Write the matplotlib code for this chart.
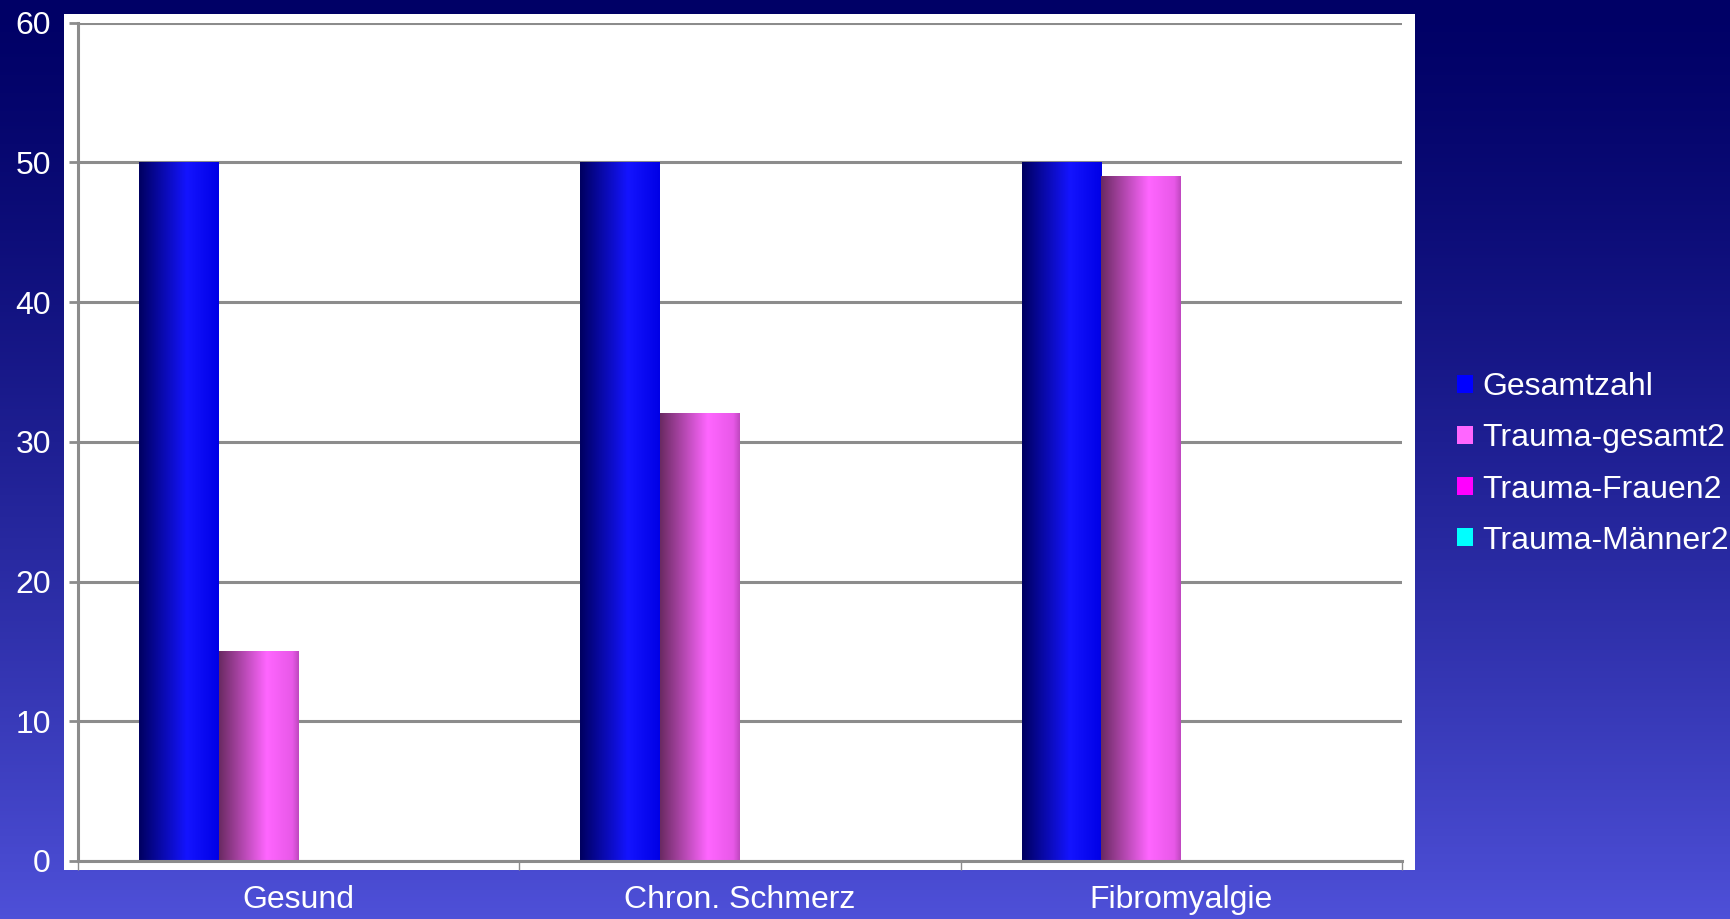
import numpy as np
import matplotlib
matplotlib.use("Agg")
import matplotlib.pyplot as plt
from matplotlib.colors import LinearSegmentedColormap
from matplotlib.patches import Patch, Rectangle

plt.rcParams['font.family'] = ['Liberation Sans', 'DejaVu Sans']

# data
categories = ["Gesund", "Chron. Schmerz", "Fibromyalgie"]
series_names = ["Gesamtzahl", "Trauma-gesamt2", "Trauma-Frauen2", "Trauma-Männer2"]
gesamtzahl = [50, 50, 50]
trauma_gesamt = [15, 32, 49]
trauma_frauen = [0, 0, 0]
trauma_maenner = [0, 0, 0]
y_ticks = [0, 10, 20, 30, 40, 50, 60]

series = [gesamtzahl, trauma_gesamt, trauma_frauen, trauma_maenner]
legend_colors = ["#0000ff", "#ff66ff", "#ff00ff", "#00ffff"]
# cylinder-like shading for each series (left -> highlight -> right)
shades = [
    [(0, "#000060"), (0.6, "#1414ff"), (1, "#0000e6")],
    [(0, "#6a2a62"), (0.6, "#ff66ff"), (0.92, "#e858e8"), (1, "#c048c0")],
    [(0, "#700070"), (0.6, "#ff20ff"), (1, "#d000d0")],
    [(0, "#007070"), (0.6, "#20ffff"), (1, "#00d0d0")],
]

fig = plt.figure(figsize=(17.31, 9.19), dpi=100)

# background gradient
bg = fig.add_axes([0, 0, 1, 1], zorder=-10)
t = np.linspace(0, 1, 256) ** 1.3
top = np.array([0, 0, 102]) / 255
bot = np.array([78, 80, 216]) / 255
grad = top[None, :] + t[:, None] * (bot - top)[None, :]
bg.imshow(grad[:, None, :], aspect='auto', extent=(0, 1, 0, 1))
bg.axis('off')

# white plot area
fig.patches.append(Rectangle((64 / 1731, 1 - 870 / 919), 1351 / 1731, 856 / 919,
                             transform=fig.transFigure, facecolor='white',
                             edgecolor='none', zorder=-5))

ax = fig.add_axes([78 / 1731, 1 - 861 / 919, 1324 / 1731, 838.3 / 919])
ax.patch.set_alpha(0)

x = np.arange(len(categories))
w = 0.181
for i, vals in enumerate(series):
    bars = ax.bar(x + (i - 1.5) * w, vals, w, color='none', zorder=2)
    cmap = LinearSegmentedColormap.from_list("s%d" % i, shades[i])
    for b in bars:
        h = b.get_height()
        if h <= 0:
            continue
        x0 = b.get_x()
        ax.imshow(np.linspace(0, 1, 200)[None, :], cmap=cmap, aspect='auto',
                  extent=(x0, x0 + b.get_width(), 0, h), zorder=2)

ax.set_xlim(-0.5, len(categories) - 0.5)
ax.set_ylim(0, 60)
ax.set_yticks(y_ticks)
ax.set_xticks(x)
ax.set_xticklabels(categories)
ax.set_xticks(np.arange(len(categories) + 1) - 0.5, minor=True)

grid_c = "#8c8c8c"
ax.yaxis.grid(True, color=grid_c, linewidth=2.2, zorder=1)
ax.set_axisbelow(True)
for s in ['top', 'right']:
    ax.spines[s].set_visible(False)
for s in ['left', 'bottom']:
    ax.spines[s].set_color(grid_c)
    ax.spines[s].set_linewidth(2.2)

ax.tick_params(axis='y', colors=grid_c, labelcolor='white', labelsize=23,
               length=6.5, width=2, pad=13)
ax.tick_params(axis='x', which='major', length=0, labelcolor='white',
               labelsize=23, pad=17)
ax.tick_params(axis='x', which='minor', length=6.5, width=1, color=grid_c)

handles = [Patch(facecolor=c, edgecolor='none') for c in legend_colors]
fig.legend(handles, series_names, loc='center left',
           bbox_to_anchor=(1457 / 1731, 1 - 464 / 919), frameon=False,
           fontsize=23, labelcolor='white', handlelength=0.5, handleheight=0.5,
           handletextpad=0.28, labelspacing=0.66, borderpad=0, borderaxespad=0)

fig.savefig("out.png", dpi=100)
